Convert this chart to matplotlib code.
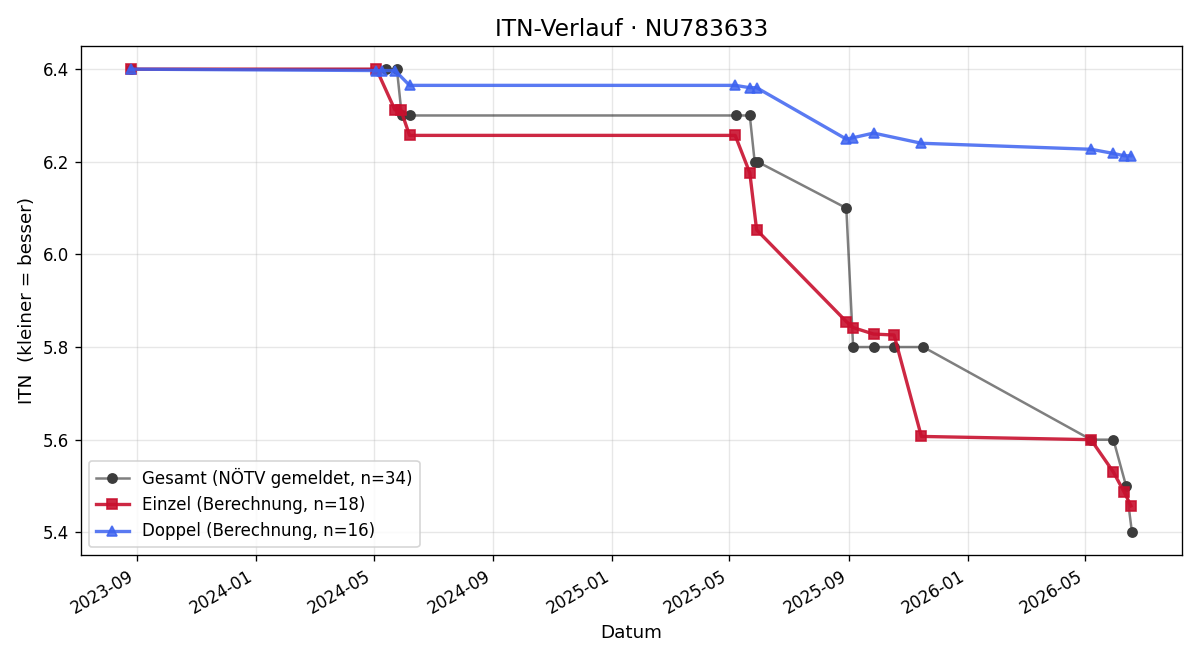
import pandas as pd
import matplotlib
matplotlib.use('Agg')
import matplotlib.pyplot as plt
import matplotlib.dates as mdates

# Gesamt (NOETV gemeldet)
gesamt_dates = ['2023-08-26', '2024-05-14', '2024-05-25', '2024-05-30', '2024-06-07',
                '2025-05-08', '2025-05-22', '2025-05-27', '2025-05-30',
                '2025-08-29', '2025-09-05', '2025-09-26', '2025-10-17', '2025-11-16',
                '2026-05-07', '2026-05-30', '2026-06-12', '2026-06-18']
gesamt_itn = [6.4, 6.4, 6.4, 6.3, 6.3,
              6.3, 6.3, 6.2, 6.2,
              6.1, 5.8, 5.8, 5.8, 5.8,
              5.6, 5.6, 5.5, 5.4]

# Einzel (Berechnung)
einzel_dates = ['2023-08-26', '2024-05-04', '2024-05-23', '2024-05-29', '2024-06-07',
                '2025-05-07', '2025-05-22', '2025-05-29',
                '2025-08-29', '2025-09-05', '2025-09-26', '2025-10-17', '2025-11-14',
                '2026-05-07', '2026-05-30', '2026-06-10', '2026-06-17']
einzel_itn = [6.4, 6.4, 6.312, 6.312, 6.257,
              6.257, 6.176, 6.053,
              5.855, 5.842, 5.828, 5.826, 5.607,
              5.6, 5.53, 5.487, 5.457]

# Doppel (Berechnung)
doppel_dates = ['2023-08-26', '2024-05-04', '2024-05-10', '2024-05-23', '2024-06-07',
                '2025-05-07', '2025-05-22', '2025-05-29',
                '2025-08-29', '2025-09-05', '2025-09-26', '2025-11-14',
                '2026-05-07', '2026-05-30', '2026-06-10', '2026-06-17']
doppel_itn = [6.4, 6.397, 6.397, 6.397, 6.365,
              6.365, 6.36, 6.36,
              6.249, 6.252, 6.262, 6.24,
              6.227, 6.218, 6.213, 6.213]

fig, ax = plt.subplots(figsize=(10, 5.5), dpi=120)

ax.plot(pd.to_datetime(gesamt_dates), gesamt_itn, marker='o', ms=5.5, lw=1.5,
        color=(0, 0, 0, 0.5), mfc='#3c3c3c', mec='#3c3c3c',
        label='Gesamt (NÖTV gemeldet, n=34)')
ax.plot(pd.to_datetime(einzel_dates), einzel_itn, marker='s', ms=6.5, lw=2,
        color='#c8102e', alpha=0.9, label='Einzel (Berechnung, n=18)')
ax.plot(pd.to_datetime(doppel_dates), doppel_itn, marker='^', ms=6.5, lw=2,
        color='#3d63f0', alpha=0.85, label='Doppel (Berechnung, n=16)')

ax.xaxis.set_major_locator(mdates.MonthLocator(bymonth=[1, 5, 9]))
ax.xaxis.set_major_formatter(mdates.DateFormatter('%Y-%m'))

ax.set_title('ITN-Verlauf · NU783633', fontsize=14)
ax.set_xlabel('Datum', fontsize=11)
ax.set_ylabel('ITN  (kleiner = besser)', fontsize=11)
ax.grid(True, alpha=0.3)
ax.legend(loc='lower left')
fig.autofmt_xdate()

fig.tight_layout()
fig.savefig('out.png')
